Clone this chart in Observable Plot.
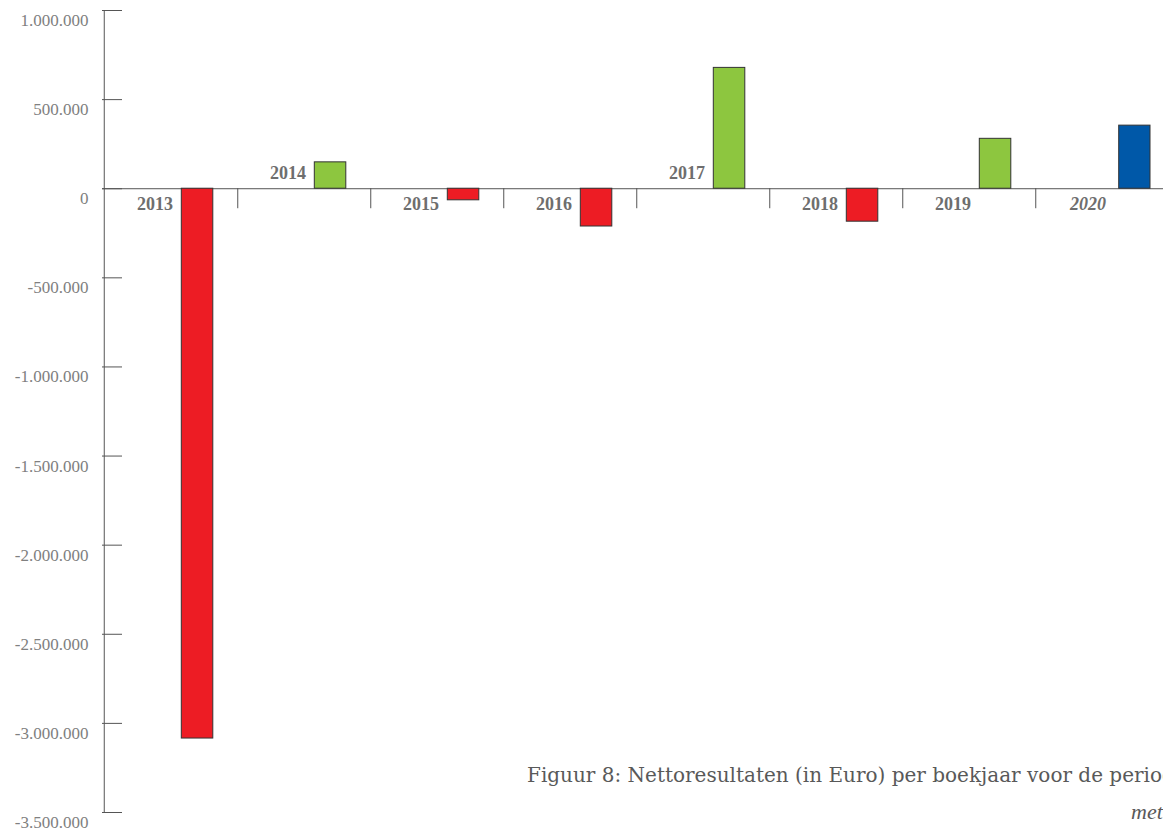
<!DOCTYPE html>
<html>
<head>
<meta charset="utf-8">
<script src="https://cdn.jsdelivr.net/npm/d3@7"></script>
<script src="https://cdn.jsdelivr.net/npm/@observablehq/plot@0.6"></script>
<style>
  html, body { margin: 0; padding: 0; background: #fff; overflow: hidden; }
  #wrap { position: relative; width: 1163px; height: 832px; overflow: hidden; }
  .cap { position: absolute; white-space: nowrap; font-family: "DejaVu Serif", serif; font-size: 20px; line-height: 26px; color: #595959; }
</style>
</head>
<body>
<div id="wrap">
  <div id="chart"></div>
  <div class="cap" style="left:527px; top:762px;">Figuur 8: Nettoresultaten (in Euro) per boekjaar voor de periode</div>
  <div class="cap" style="left:1131px; top:799px; font-style:italic; font-family:'Liberation Serif', serif; font-size:22px;">met</div>
</div>
<script>
const years = ["2013", "2014", "2015", "2016", "2017", "2018", "2019", "2020"];
const values = [-3085000, 148000, -65000, -212000, 678000, -185000, 280000, 354000];
const kinds = ["loss", "profit", "loss", "loss", "profit", "loss", "profit", "forecast"];
const labelSide = ["below", "above", "below", "below", "above", "below", "below", "below"];
const yTicks = [1000000, 500000, 0, -500000, -1000000, -1500000, -2000000, -2500000, -3000000, -3500000];
const kindColors = {loss: "#ED1C24", profit: "#8DC63F", forecast: "#0058A8"};

const data = years.map((y, i) => ({year: y, value: values[i], kind: kinds[i], side: labelSide[i]}));

const nl = d3.formatLocale({decimal: ",", thousands: ".", grouping: [3], currency: ["€", ""], minus: "-"});
const fmt = nl.format(",");

const W = 1163, H = 832;
const xRange = [102, 1170];
const bw = (xRange[1] - xRange[0]) / years.length;
const serif = "Liberation Serif, serif";
const axisColor = "#555";

const chart = Plot.plot({
  width: W,
  height: H,
  marginTop: 10,
  marginBottom: 20,
  marginLeft: 102,
  marginRight: 0,
  style: {background: "transparent", fontFamily: serif},
  x: {domain: years, range: xRange, padding: 0, axis: null},
  y: {domain: [-3500000, 1000000], axis: null},
  marks: [
    Plot.axisY(yTicks, {anchor: "left", label: null, tickSize: 0, tickPadding: 14, dy: 10, tickFormat: fmt,
      fontSize: 17, fill: "#808080", fontFamily: serif}),
    Plot.ruleY(yTicks, {y: d => d, stroke: axisColor, insetRight: W - 102 - 20}),
    Plot.ruleY([0], {stroke: axisColor}),
    Plot.ruleX([years[0]], {x: d => d, dx: -bw / 2, stroke: axisColor}),
    Plot.ruleX(years.slice(0, -1), {x: d => d, y1: 0, y2: 0, insetBottom: -20, dx: bw / 2, stroke: axisColor}),
    Plot.barY(data.filter(d => d.kind !== "forecast"), {x: "year", y: "value",
      fill: d => kindColors[d.kind], stroke: "#333", strokeWidth: 1, insetLeft: 77.3, insetRight: 24.2}),
    Plot.barY(data.filter(d => d.kind === "forecast"), {x: "year", y: "value",
      fill: d => kindColors[d.kind], stroke: "#333", strokeWidth: 1, insetLeft: 83.7, insetRight: 18}),
    Plot.text(data.filter(d => d.side === "above"), {x: "year", y: 0, text: "year", textAnchor: "end",
      dx: 2, dy: -15.5, fontSize: 18, fontWeight: "bold", fill: "#6e6e6e", fontFamily: serif}),
    Plot.text(data.filter(d => d.side === "below" && d.kind !== "forecast"), {x: "year", y: 0, text: "year", textAnchor: "end",
      dx: 2, dy: 15.5, fontSize: 18, fontWeight: "bold", fill: "#6e6e6e", fontFamily: serif}),
    Plot.text(data.filter(d => d.kind === "forecast"), {x: "year", y: 0, text: "year", textAnchor: "end",
      dx: 4, dy: 15.5, fontSize: 18, fontWeight: "bold", fontStyle: "italic", fill: "#6e6e6e", fontFamily: serif})
  ]
});
document.getElementById("chart").appendChild(chart);
</script>
</body>
</html>
